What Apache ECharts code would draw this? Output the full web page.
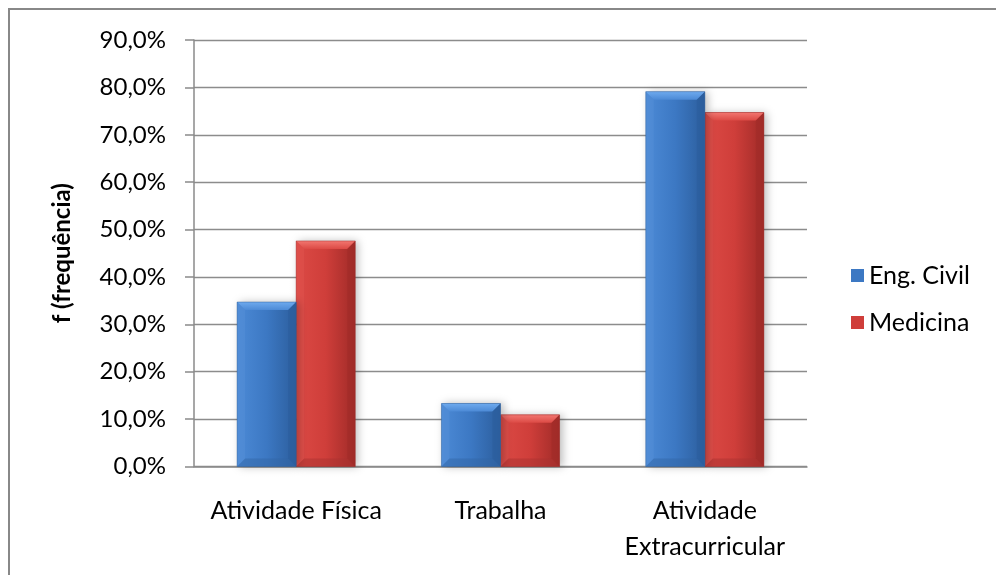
<!DOCTYPE html>
<html>
<head>
<meta charset="utf-8">
<script src="https://cdn.jsdelivr.net/npm/echarts@6/dist/echarts.min.js"></script>
<style>
  html, body { margin: 0; padding: 0; background: #ffffff; }
  #chart { width: 996px; height: 575px; }
</style>
</head>
<body>
<div id="chart"></div>
<script>
// Categories and frequencies (percent)
const categories = ['Atividade Física', 'Trabalha', 'Atividade\nExtracurricular'];
const engCivil = [34.7, 13.3, 79.1];
const medicina = [47.6, 10.9, 74.7];
const seriesNames = ['Eng. Civil', 'Medicina'];
const yTicks = { min: 0, max: 90, interval: 10 };

// Beveled bar palettes: body, top bevel, left bevel, right bevel, bottom bevel
const palettes = [
  { base: '#3c78c3', light: '#4c8ad6', top: '#6eaaee', left: '#5691d8', right: '#2c5e9d', bottom: '#3266a6' },
  { base: '#cf3e3a', light: '#dc4a45', top: '#f27670', left: '#e0554f', right: '#a02b28', bottom: '#a9322f' }
];

const BAR_FRAC = 0.289;  // width of one bar as a fraction of the category band
const BEVEL = 8;

function makeRenderer(side, pal) {
  return function (params, api) {
    const cat = api.value(0);
    const val = api.value(1);
    const p0 = api.coord([cat, 0]);
    const p1 = api.coord([cat, val]);
    const band = api.size([1, 0])[0];
    const w = band * BAR_FRAC;
    const x0 = side === 0 ? p0[0] - w : p0[0];
    const x1 = x0 + w;
    const yb = p0[1];
    const yt = p1[1];
    const b = Math.min(BEVEL, (yb - yt) / 2);
    return {
      type: 'group',
      children: [
        {
          type: 'rect',
          shape: { x: x0, y: yt, width: w, height: yb - yt },
          style: {
            fill: new echarts.graphic.LinearGradient(0, 0, 1, 0, [
              { offset: 0, color: pal.light },
              { offset: 0.5, color: pal.base },
              { offset: 1, color: pal.right }
            ]),
            shadowBlur: 8,
            shadowOffsetX: 3,
            shadowOffsetY: 0,
            shadowColor: 'rgba(0,0,0,0.25)'
          }
        },
        {
          type: 'polygon',
          shape: { points: [[x0, yt], [x1, yt], [x1 - b, yt + b], [x0 + b, yt + b]] },
          style: {
            fill: new echarts.graphic.LinearGradient(0, 0, 0, 1, [
              { offset: 0, color: pal.top },
              { offset: 1, color: pal.light }
            ])
          }
        },
        {
          type: 'polygon',
          shape: { points: [[x0, yt], [x0 + b, yt + b], [x0 + b, yb - b], [x0, yb]] },
          style: { fill: pal.left, opacity: 0.45 }
        },
        {
          type: 'polygon',
          shape: { points: [[x1, yt], [x1, yb], [x1 - b, yb - b], [x1 - b, yt + b]] },
          style: { fill: pal.right, opacity: 0.6 }
        },
        {
          type: 'polygon',
          shape: { points: [[x0, yb], [x1, yb], [x1 - b, yb - b], [x0 + b, yb - b]] },
          style: { fill: pal.bottom, opacity: 0.5 }
        },
        {
          type: 'rect',
          shape: { x: x0, y: yt, width: w, height: yb - yt },
          style: { fill: 'none', stroke: pal.right, lineWidth: 0.8, opacity: 0.6 }
        }
      ]
    };
  };
}

function toData(values) {
  return values.map((v, i) => [i, v]);
}

const chart = echarts.init(document.getElementById('chart'), null, { renderer: 'canvas' });

chart.setOption({
  backgroundColor: '#ffffff',
  animation: false,
  graphic: [{
    type: 'rect',
    shape: { x: 9, y: 9, width: 1000, height: 600 },
    style: { fill: 'none', stroke: '#888888', lineWidth: 2 },
    silent: true
  }],
  grid: { left: 194, right: 189, top: 40, bottom: 108.5 },
  legend: {
    orient: 'vertical',
    left: 846,
    top: 258,
    itemWidth: 13,
    itemHeight: 13,
    itemGap: 22,
    itemTextGap: 5,
    icon: 'rect',
    data: seriesNames,
    textStyle: { fontFamily: 'Lato', fontSize: 25, color: '#000000' }
  },
  xAxis: {
    type: 'category',
    data: categories,
    axisLine: { show: true, lineStyle: { color: '#8a8a8a', width: 1.5 } },
    axisTick: { show: false },
    axisLabel: {
      interval: 0,
      margin: 26,
      fontFamily: 'Lato',
      fontSize: 25,
      lineHeight: 36,
      color: '#000000',
      align: 'center'
    }
  },
  yAxis: {
    type: 'value',
    min: yTicks.min,
    max: yTicks.max,
    interval: yTicks.interval,
    name: 'f (frequência)',
    nameLocation: 'middle',
    nameGap: 120,
    nameRotate: 90,
    nameTextStyle: { fontFamily: 'Lato', fontWeight: 'bold', fontSize: 24, color: '#000000' },
    axisLine: { show: true, lineStyle: { color: '#8a8a8a', width: 1.5 } },
    axisTick: { show: true, length: 9, inside: false, lineStyle: { color: '#8a8a8a', width: 1.5 } },
    splitLine: { show: true, lineStyle: { color: '#8c8c8c', width: 1.3 } },
    axisLabel: {
      margin: 28,
      fontFamily: 'Lato',
      fontSize: 24,
      color: '#000000',
      formatter: v => v.toFixed(1).replace('.', ',') + '%'
    }
  },
  series: [
    {
      name: seriesNames[0],
      type: 'custom',
      renderItem: makeRenderer(0, palettes[0]),
      itemStyle: { color: palettes[0].base },
      encode: { x: 0, y: 1 },
      data: toData(engCivil),
      z: 3
    },
    {
      name: seriesNames[1],
      type: 'custom',
      renderItem: makeRenderer(1, palettes[1]),
      itemStyle: { color: palettes[1].base },
      encode: { x: 0, y: 1 },
      data: toData(medicina),
      z: 2
    }
  ]
});
</script>
</body>
</html>
